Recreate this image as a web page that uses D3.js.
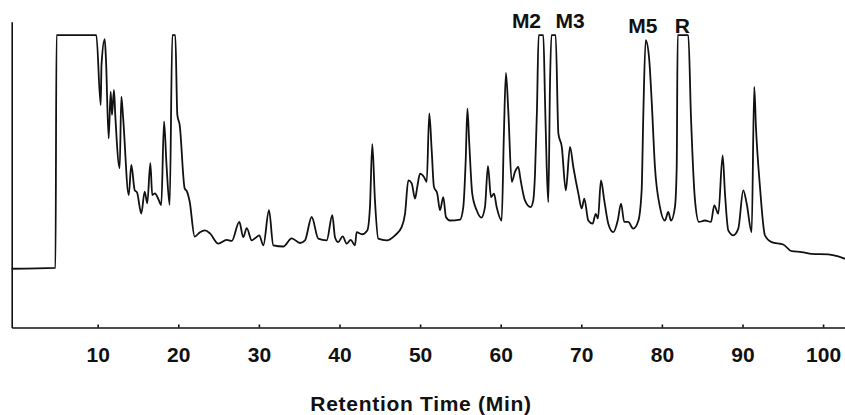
<!DOCTYPE html>
<html>
<head>
<meta charset="utf-8">
<script src="https://cdn.jsdelivr.net/npm/d3@7"></script>
<style>
  html, body { margin: 0; padding: 0; background: #fff; }
  #chart { width: 845px; height: 415px; }
  .trace { fill: none; stroke: #111; stroke-width: 1.8px; stroke-linejoin: round; }
  .axis path, .axis line { stroke: #111; stroke-width: 1.6px; }
  .axis text { font-family: "Liberation Sans", Arial, sans-serif; font-size: 21px; font-weight: bold; fill: #111; }
  .peak-label { font-family: "Liberation Sans", Arial, sans-serif; font-size: 21px; font-weight: bold; fill: #111; text-anchor: middle; }
  .axis-title { font-family: "Liberation Sans", Arial, sans-serif; font-size: 21px; font-weight: bold; fill: #111; text-anchor: middle; letter-spacing: 0.7px; }
</style>
</head>
<body>
<div id="chart"></div>
<script>
// Retention time (min) and detector response (% of full scale)
const retentionTime = [
  -0.67, 4.76, 4.89, 9.83, 10.37, 10.47, 10.87, 11.03, 11.36, 11.61,
  11.77, 12.02, 12.18, 12.73, 12.93, 13.14, 13.85, 14.17, 14.59, 14.88,
  15.41, 15.83, 16.15, 16.53, 16.77, 17.11, 17.48, 17.89, 18.23, 18.54,
  18.93, 19.26, 19.63, 19.88, 20.17, 20.79, 21.08, 21.41, 22.03, 22.69,
  23.31, 23.93, 24.96, 26.0, 26.63, 27.57, 28.06, 28.49, 29.11, 29.52,
  30.05, 30.55, 31.25, 31.79, 33.03, 34.07, 35.1, 35.72, 36.55, 37.37,
  38.41, 39.11, 39.44, 39.85, 40.4, 40.89, 41.39, 41.92, 42.13, 42.79,
  43.45, 43.78, 44.07, 44.4, 44.81, 45.86, 46.89, 47.72, 48.13, 48.54,
  48.96, 49.37, 49.65, 49.99, 50.48, 50.82, 51.14, 51.44, 51.72, 52.13,
  52.47, 52.88, 53.21, 53.71, 54.95, 55.36, 55.66, 55.87, 56.1, 56.47,
  57.02, 57.6, 58.05, 58.42, 58.8, 59.17, 59.5, 60.12, 60.4, 60.65,
  60.94, 61.37, 61.77, 62.18, 62.48, 63.01, 63.72, 64.04, 64.26, 64.5,
  64.71, 65.29, 65.5, 65.71, 65.91, 66.12, 66.3, 66.82, 67.16, 67.58,
  68.08, 68.6, 69.01, 69.64, 70.05, 70.37, 70.87, 71.41, 71.79, 72.07,
  72.44, 72.85, 73.35, 73.97, 74.52, 74.93, 75.33, 75.83, 76.45, 77.07,
  77.49, 77.69, 77.99, 78.4, 78.73, 79.14, 79.76, 80.38, 80.79, 81.13,
  81.62, 81.84, 81.96, 83.28, 83.61, 84.11, 84.6, 85.35, 86.09, 86.5,
  87.0, 87.54, 87.83, 88.24, 88.86, 89.48, 90.1, 90.52, 91.14, 91.46,
  91.67, 92.17, 92.79, 93.62, 95.06, 96.1, 97.34, 98.59, 100.65, 101.89,
  102.72
];
const signal = [
  20.1, 20.4, 100, 100, 76.1, 89.7, 98.6, 91.4, 64.7, 80.7,
  72.7, 81.3, 72.7, 54.5, 79.0, 72.3, 45.3, 55.6, 47.0, 46.2,
  39.0, 46.5, 42.5, 56.2, 45.3, 45.9, 44.2, 41.9, 70.5, 55.5,
  41.9, 100, 100, 72.7, 69.3, 47.6, 46.5, 43.1, 31.1, 32.6,
  33.2, 32.2, 28.7, 30.0, 29.6, 36.1, 30.9, 34.0, 29.8, 30.5,
  31.5, 28.1, 40.1, 28.1, 27.7, 30.5, 28.9, 29.8, 37.8, 30.4,
  29.8, 38.4, 30.9, 29.2, 31.2, 28.7, 30.0, 28.1, 32.6, 31.9,
  33.2, 41.2, 62.7, 43.5, 30.4, 29.8, 31.5, 34.4, 38.9, 50.3,
  49.3, 44.1, 48.1, 52.6, 51.5, 49.8, 73.2, 60.6, 48.1, 45.8,
  40.1, 44.6, 37.8, 36.6, 36.9, 41.2, 57.2, 74.9, 63.0, 45.8,
  40.1, 37.6, 41.2, 55.2, 44.6, 45.8, 41.2, 36.6, 66.4, 87.1,
  74.3, 49.8, 53.2, 54.9, 50.3, 43.5, 41.2, 43.5, 52.6, 74.3,
  100, 100, 77.7, 54.9, 42.9, 83.6, 100, 100, 66.3, 61.8,
  46.9, 61.8, 54.9, 45.8, 40.7, 44.1, 36.6, 35.5, 38.9, 37.3,
  50.3, 43.5, 35.5, 32.6, 36.6, 42.4, 36.1, 36.1, 33.8, 36.4,
  46.9, 72.0, 98.3, 92.6, 77.7, 54.9, 41.2, 36.6, 39.5, 36.6,
  41.2, 54.9, 100, 100, 72.0, 43.5, 36.1, 36.6, 36.1, 41.8,
  38.9, 58.9, 45.8, 33.2, 31.5, 33.8, 46.9, 42.4, 32.6, 82.3,
  68.6, 48.1, 31.5, 29.2, 28.4, 26.1, 25.8, 25.2, 25.0, 24.3,
  23.5
];
const tickLabels = [10, 20, 30, 40, 50, 60, 70, 80, 90, 100];

// Peak annotations
const peakNames  = ['M2', 'M3', 'M5', 'R'];
const peakTimes  = [63.2, 68.6, 77.65, 82.55];
const peakLevels = [102.4, 102.4, 100.7, 100.7];

class Chromatogram {
  constructor(_config) {
    this.config = {
      parentElement: _config.parentElement,
      width:  _config.width  || 845,
      height: _config.height || 415
    };
    this.initVis();
  }

  initVis() {
    const vis = this;

    vis.svg = d3.select(vis.config.parentElement)
      .append('svg')
        .attr('width', vis.config.width)
        .attr('height', vis.config.height);

    vis.xScale = d3.scaleLinear().domain([-0.67, 102.72]).range([11.7, 845]);
    vis.yScale = d3.scaleLinear().domain([0, 104.6]).range([327.5, 21.7]);

    vis.data = retentionTime.map((t, i) => ({ t, s: signal[i] }));

    vis.renderVis();
  }

  renderVis() {
    const vis = this;

    // --- Axes ---
    vis.svg.append('g')
      .attr('class', 'axis x-axis')
      .attr('transform', `translate(0,${vis.yScale(0)})`)
      .call(d3.axisBottom(vis.xScale)
        .tickValues(tickLabels)
        .tickSizeInner(-3)
        .tickSizeOuter(0)
        .tickPadding(20));

    vis.svg.append('g')
      .attr('class', 'axis y-axis')
      .attr('transform', `translate(${vis.xScale.range()[0]},0)`)
      .call(d3.axisLeft(vis.yScale).tickValues([]).tickSizeOuter(0));

    // --- Trace (monotone keeps flat saturated tops flat) ---
    const line = d3.line()
      .curve(d3.curveMonotoneX)
      .x(d => vis.xScale(d.t))
      .y(d => vis.yScale(d.s));

    vis.svg.append('path')
      .datum(vis.data)
      .attr('class', 'trace')
      .attr('d', line);

    // --- Peak labels ---
    vis.svg.selectAll('.peak-label')
      .data(peakNames)
      .join('text')
        .attr('class', 'peak-label')
        .attr('x', (d, i) => vis.xScale(peakTimes[i]))
        .attr('y', (d, i) => vis.yScale(peakLevels[i]))
        .text(d => d);

    vis.svg.append('text')
      .attr('class', 'axis-title')
      .attr('x', 421)
      .attr('y', 411)
      .text('Retention Time (Min)');
  }
}

new Chromatogram({ parentElement: '#chart' });
</script>
</body>
</html>
